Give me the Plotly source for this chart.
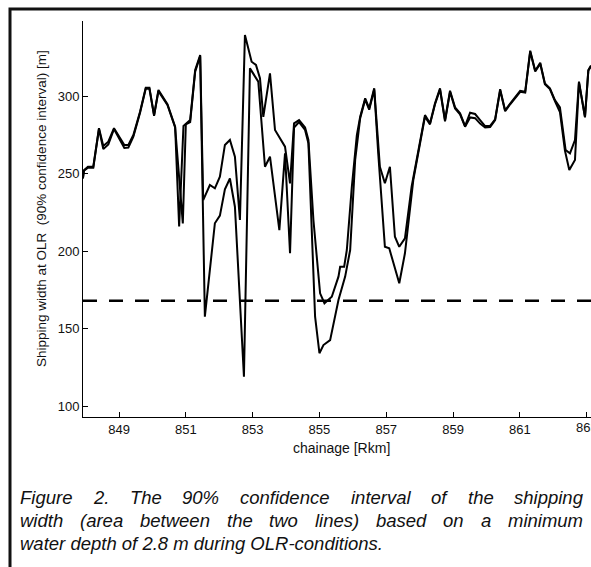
import plotly.graph_objects as go

# ---------------- data ----------------
lineA_km = [847.92, 847.95, 848.07, 848.23, 848.40, 848.53, 848.68, 848.85, 849.16, 849.28,
            849.43, 849.63, 849.80, 849.91, 850.05, 850.18, 850.45, 850.68,
            850.80, 850.93, 851.13, 851.28, 851.43, 851.52, 851.72, 851.87, 852.02, 852.17,
            852.32, 852.47, 852.62, 852.77, 852.97, 853.10, 853.22, 853.32, 853.52, 853.67,
            853.97, 854.12, 854.24, 854.39, 854.57, 854.67, 854.82, 855.02, 855.15, 855.37,
            855.57, 855.62, 855.74, 855.82, 855.97, 856.12, 856.22, 856.37, 856.49, 856.64,
            856.81, 856.96, 857.11, 857.26, 857.39, 857.56, 857.76, 858.16, 858.31, 858.46,
            858.61, 858.76, 858.91, 859.06, 859.21, 859.36, 859.51, 859.66, 859.81, 859.96,
            860.11, 860.26, 860.41, 860.56, 860.71, 860.86, 861.01, 861.16, 861.31, 861.46,
            861.61, 861.75, 861.90, 862.05, 862.20, 862.37, 862.50, 862.65, 862.77, 862.95,
            863.05, 863.13]
lineA_w = [247.3, 252.4, 254.6, 254.6, 279.5, 268.0, 270.8, 279.5, 268.7, 268.7,
           275.1, 290.2, 305.7, 305.7, 288.0, 304.2, 295.0, 280.5,
           216.0, 281.0, 284.8, 317.1, 326.8, 233.1, 242.8, 240.7, 248.2, 268.7,
           271.9, 261.1, 220.2, 339.7, 322.5, 320.4, 311.8, 286.9, 315.0, 278.4,
           267.6, 243.9, 282.7, 284.8, 280.0, 272.0, 220.2, 172.8, 166.4, 170.6,
           183.6, 190.0, 190.0, 200.8, 241.7, 275.0, 287.0, 298.8, 292.4, 305.3,
           254.6, 243.9, 254.6, 209.4, 202.9, 208.4, 241.7, 288.0, 282.7, 295.6,
           305.3, 284.8, 303.7, 293.0, 289.1, 280.9, 289.5, 288.7, 284.8, 280.9,
           281.0, 285.3, 304.7, 291.0, 295.5, 299.9, 303.6, 303.1, 329.6, 316.7,
           321.8, 308.5, 305.3, 297.7, 293.0, 265.4, 263.3, 271.9, 309.6, 286.9,
           317.1, 320.0]

lineB_km = [847.92, 847.95, 848.07, 848.23, 848.40, 848.53, 848.68, 848.85, 849.16, 849.28,
            849.43, 849.63, 849.80, 849.91, 850.05, 850.18, 850.45, 850.68,
            850.91, 851.00, 851.13, 851.28, 851.43, 851.57, 851.87, 852.02, 852.17, 852.32,
            852.47, 852.74, 852.92, 853.17, 853.37, 853.52, 853.80, 853.97, 854.12, 854.24,
            854.39, 854.57, 854.67, 854.87, 855.00, 855.12, 855.32, 855.57, 855.77, 855.92,
            856.07, 856.22, 856.37, 856.49, 856.64, 856.76, 856.96, 857.09, 857.39, 857.56,
            857.81, 858.16, 858.31, 858.46, 858.61, 858.76, 858.91, 859.06, 859.21, 859.36,
            859.51, 859.66, 859.81, 859.96, 860.11, 860.26, 860.41, 860.56, 860.71, 860.86,
            861.01, 861.16, 861.31, 861.46, 861.61, 861.75, 861.90, 862.05, 862.20, 862.35,
            862.48, 862.65, 862.77, 862.95, 863.05, 863.13]
lineB_w = [247.0, 252.0, 254.0, 254.0, 279.0, 266.0, 269.0, 279.0, 266.8, 267.0,
           274.0, 289.5, 305.0, 305.0, 287.5, 303.5, 294.5, 280.0,
           218.0, 282.0, 283.5, 316.0, 326.0, 157.7, 218.1, 223.0, 240.0, 247.0,
           228.8, 118.9, 318.2, 309.6, 254.6, 261.1, 213.7, 263.3, 198.7, 280.0,
           283.5, 278.4, 269.8, 157.7, 134.1, 139.4, 142.6, 168.5, 183.6, 200.8,
           259.0, 286.0, 298.0, 291.5, 304.5, 263.3, 202.9, 201.9, 179.3, 198.7,
           246.0, 287.0, 282.0, 295.0, 304.5, 284.0, 303.0, 292.3, 288.5, 280.5,
           286.5, 286.0, 282.5, 280.0, 280.3, 284.8, 304.0, 290.5, 295.0, 299.3,
           303.0, 302.5, 329.0, 316.2, 321.2, 308.0, 304.8, 297.0, 290.0, 265.0,
           252.5, 259.0, 309.0, 286.5, 316.6, 319.5]

threshold_w = 168
x_range = [847.922, 863.13]
y_range = [92.9, 348.8]
x_ticks = [849, 851, 853, 855, 857, 859, 861, 863]
y_ticks = [100, 150, 200, 250, 300]

y_title = "Shipping width at OLR\u00a0\u00a0(90% confidence interval) [m]"
x_title = "chainage [Rkm]"
caption_lines = [
    "Figure 2. The 90% confidence interval of the shipping",
    "width (area between the two lines) based on a minimum",
    "water depth of 2.8 m during OLR-conditions.",
]

# ---------------- layout geometry ----------------
W, H = 591, 567
L, R, T, B = 83, 0, 21, 150
PW, PH = W - L - R, H - T - B
FONT = "Liberation Sans, Arial, Helvetica, sans-serif"

def px_x(px):
    return (px - L) / PW

def px_y(py):
    return (H - B - py) / PH

fig = go.Figure()
for xs, ys in ((lineA_km, lineA_w), (lineB_km, lineB_w)):
    fig.add_trace(go.Scatter(x=xs, y=ys, mode="lines",
                             line=dict(color="black", width=2), showlegend=False,
                             hoverinfo="skip"))
fig.add_trace(go.Scatter(x=x_range, y=[threshold_w, threshold_w], mode="lines",
                         line=dict(color="black", width=2.5, dash="14px,12px"),
                         showlegend=False, hoverinfo="skip"))

# Arial / Liberation Sans advance widths (per 1000 em) for justified caption
AW = {' ': 278, '(': 333, ')': 333, '-': 333, '.': 278, '%': 889, ',': 278,
      'a': 556, 'b': 556, 'c': 500, 'd': 556, 'e': 556, 'f': 278, 'g': 556, 'h': 556,
      'i': 222, 'j': 222, 'k': 500, 'l': 222, 'm': 833, 'n': 556, 'o': 556, 'p': 556,
      'q': 556, 'r': 333, 's': 500, 't': 278, 'u': 556, 'v': 500, 'w': 722, 'x': 500,
      'y': 500, 'z': 500, 'F': 611, 'T': 611, 'O': 778, 'L': 556, 'R': 722}
for d in "0123456789":
    AW[d] = 556

def text_w(s, size):
    return sum(AW.get(c, 556) for c in s) / 1000.0 * size

CAP_SIZE = 18.5
cap_left, cap_right = 20, 583
cap_centers = [497, 520, 543]
annotations = []
for i, line in enumerate(caption_lines):
    cy = px_y(cap_centers[i])
    if i < len(caption_lines) - 1:
        words = line.split(" ")
        widths = [text_w(w, CAP_SIZE) for w in words]
        gap = (cap_right - cap_left - sum(widths)) / (len(words) - 1)
        xpos = cap_left
        for w, ww in zip(words, widths):
            annotations.append(dict(x=px_x(xpos - 1), y=cy, xref="paper", yref="paper",
                                    text="<i>" + w + "</i>", showarrow=False,
                                    xanchor="left", yanchor="middle",
                                    font=dict(family=FONT, size=CAP_SIZE, color="#111"),
                                    borderpad=0))
            xpos += ww + gap
    else:
        annotations.append(dict(x=px_x(cap_left - 1), y=cy, xref="paper", yref="paper",
                                text="<i>" + line + "</i>", showarrow=False,
                                xanchor="left", yanchor="middle",
                                font=dict(family=FONT, size=CAP_SIZE, color="#111"),
                                borderpad=0))

annotations.append(dict(x=px_x(42), y=px_y(209), xref="paper", yref="paper", text=y_title,
                        textangle=-90, showarrow=False, xanchor="center", yanchor="middle",
                        font=dict(family=FONT, size=13.5, color="#111")))
annotations.append(dict(x=px_x(341), y=px_y(448), xref="paper", yref="paper", text=x_title,
                        showarrow=False, xanchor="center", yanchor="middle",
                        font=dict(family=FONT, size=14, color="#111")))
# last tick label (cut by the page edge in the reference)
annotations.append(dict(x=x_ticks[-1], y=px_y(427), xref="x", yref="paper",
                        text=str(x_ticks[-1]), showarrow=False, xanchor="center",
                        yanchor="middle", font=dict(family=FONT, size=13, color="#111")))

fig.update_layout(
    width=W, height=H,
    margin=dict(l=L, r=R, t=T, b=B, pad=0),
    paper_bgcolor="white", plot_bgcolor="white",
    font=dict(family=FONT, size=13, color="#111"),
    annotations=annotations,
    shapes=[dict(type="rect", xref="paper", yref="paper",
                 x0=px_x(10), x1=1.3, y0=-0.8, y1=px_y(9),
                 line=dict(color="#111", width=3), layer="above")],
    xaxis=dict(range=x_range, tickvals=x_ticks, ticks="inside", ticklen=5, tickwidth=1,
               tickcolor="black", showline=True, linecolor="black", linewidth=1,
               showgrid=False, zeroline=False, mirror=False,
               tickfont=dict(family=FONT, size=13, color="#111")),
    yaxis=dict(range=y_range, tickvals=y_ticks, ticks="inside", ticklen=5, tickwidth=1,
               tickcolor="black", showline=True, linecolor="black", linewidth=1,
               showgrid=False, zeroline=False, mirror=False,
               tickfont=dict(family=FONT, size=13, color="#111")),
)

fig.write_html("out.html")
